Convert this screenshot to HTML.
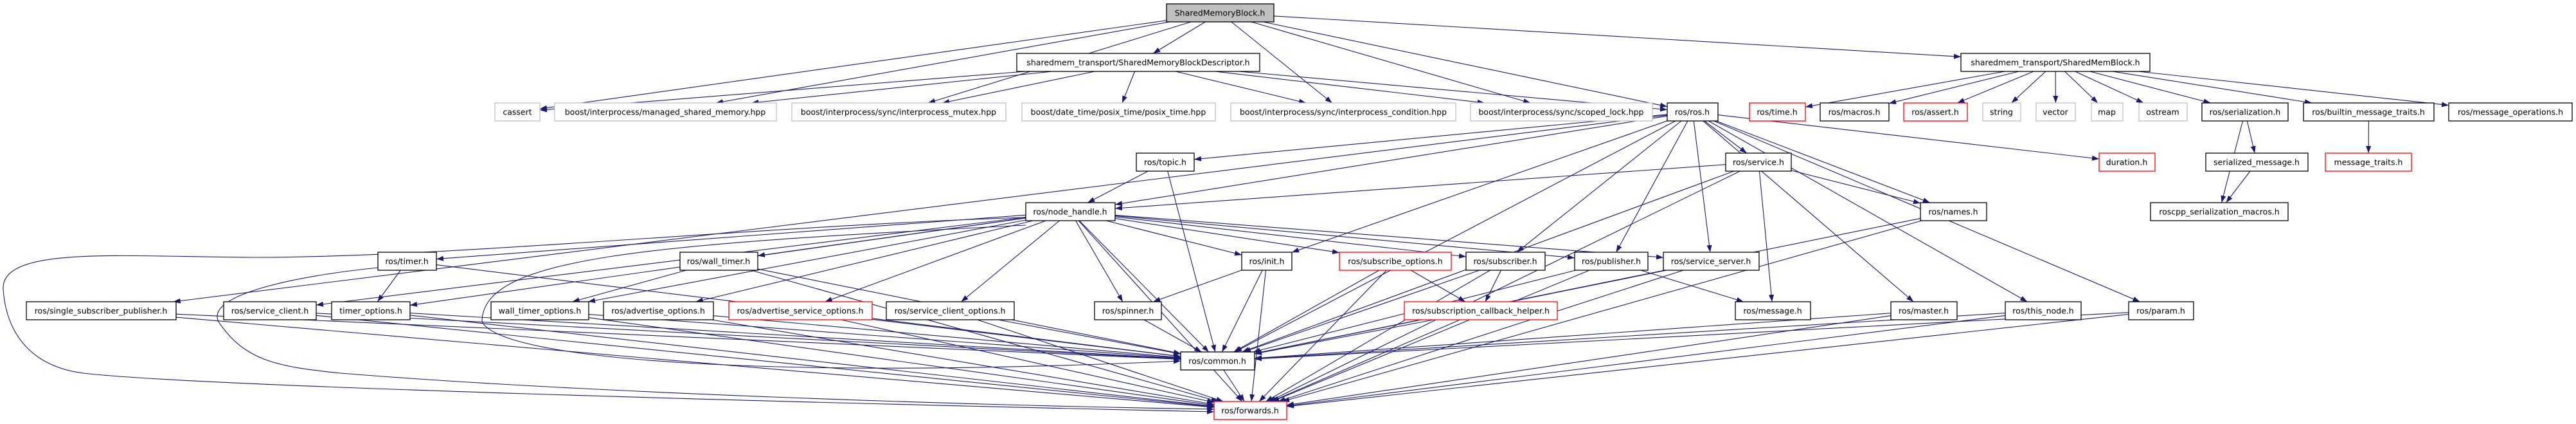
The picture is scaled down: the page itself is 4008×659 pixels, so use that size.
<!DOCTYPE html>
<html><head><meta charset="utf-8"><style>
html,body{margin:0;padding:0;background:#fff;overflow:hidden;}
svg{display:block;}
text{font-family:"DejaVu Sans","Liberation Sans",sans-serif;font-size:12.5px;fill:#000;}
</style></head><body>
<svg id="g" width="4008" height="659" xmlns="http://www.w3.org/2000/svg">
<defs><marker id="ah" markerUnits="userSpaceOnUse" markerWidth="12" markerHeight="9" refX="11" refY="4" orient="auto"><path d="M0,0 L11,4 L0,8 z" fill="#191970"/></marker></defs>
<g id="edges" fill="none" stroke="#191970" stroke-width="1.1">
<path d="M1596,338 C1200,350 700,400 400,400 C200,400 0,380 5,450 C10,520 50,570 130,580 C300,600 1200,625 1889,640" marker-end="url(#ah)"/>
<path d="M588,416 C450,430 320,460 340,500 C380,560 430,570 530,580 C900,610 1500,630 1889,636" marker-end="url(#ah)"/>
<path d="M1596,350 C1000,380 750,400 750,500 C780,560 1200,590 1837,561" marker-end="url(#ah)"/>
</g>
<g id="nodes"></g>
<g font-family="DejaVu Sans, Liberation Sans, sans-serif" font-size="12.5" text-anchor="middle">
<text x="1898" y="24.5">SharedMemoryBlock.h</text>
<text x="1771" y="101.5">sharedmem_transport/SharedMemoryBlockDescriptor.h</text>
<text x="3198" y="101.5">sharedmem_transport/SharedMemBlock.h</text>
<text x="805" y="178.5">cassert</text>
<text x="1035" y="178.5">boost/interprocess/managed_shared_memory.hpp</text>
<text x="1398" y="178.5">boost/interprocess/sync/interprocess_mutex.hpp</text>
<text x="1740" y="178.5">boost/date_time/posix_time/posix_time.hpp</text>
<text x="2090" y="178.5">boost/interprocess/sync/interprocess_condition.hpp</text>
<text x="2429" y="178.5">boost/interprocess/sync/scoped_lock.hpp</text>
<text x="2633" y="178.5">ros/ros.h</text>
<text x="2765" y="178.5">ros/time.h</text>
<text x="2885" y="178.5">ros/macros.h</text>
<text x="3011" y="178.5">ros/assert.h</text>
<text x="3114" y="178.5">string</text>
<text x="3198" y="178.5">vector</text>
<text x="3278" y="178.5">map</text>
<text x="3365" y="178.5">ostream</text>
<text x="3493" y="178.5">ros/serialization.h</text>
<text x="3685" y="178.5">ros/builtin_message_traits.h</text>
<text x="3906" y="178.5">ros/message_operations.h</text>
<text x="1813" y="256.5">ros/topic.h</text>
<text x="2736" y="256.5">ros/service.h</text>
<text x="3309" y="256.5">duration.h</text>
<text x="3511" y="256.5">serialized_message.h</text>
<text x="3685" y="256.5">message_traits.h</text>
<text x="1665" y="333.5">ros/node_handle.h</text>
<text x="3039" y="333.5">ros/names.h</text>
<text x="3453" y="333.5">roscpp_serialization_macros.h</text>
<text x="633" y="410.5">ros/timer.h</text>
<text x="1118" y="410.5">ros/wall_timer.h</text>
<text x="1971" y="410.5">ros/init.h</text>
<text x="2171" y="410.5">ros/subscribe_options.h</text>
<text x="2342" y="410.5">ros/subscriber.h</text>
<text x="2507" y="410.5">ros/publisher.h</text>
<text x="2662" y="410.5">ros/service_server.h</text>
<text x="157" y="487.5">ros/single_subscriber_publisher.h</text>
<text x="420" y="487.5">ros/service_client.h</text>
<text x="577" y="487.5">timer_options.h</text>
<text x="840" y="487.5">wall_timer_options.h</text>
<text x="1024" y="487.5">ros/advertise_options.h</text>
<text x="1245" y="487.5">ros/advertise_service_options.h</text>
<text x="1478" y="487.5">ros/service_client_options.h</text>
<text x="1755" y="487.5">ros/spinner.h</text>
<text x="2304" y="487.5">ros/subscription_callback_helper.h</text>
<text x="2758" y="487.5">ros/message.h</text>
<text x="2993" y="487.5">ros/master.h</text>
<text x="3179" y="487.5">ros/this_node.h</text>
<text x="3362" y="487.5">ros/param.h</text>
<text x="1894" y="565.5">ros/common.h</text>
<text x="1945" y="642.5">ros/forwards.h</text>
</g>
</svg>
<script>
var R=[0,6,83,160,238,315,392,469,547,624];
var N=[
["smb",1815,1982,1,"s"],["desc",1582,1960,2,""],["smblk",3051,3345,2,""],
["cassert",770,840,3,"g"],["msm",863,1208,3,"g"],["mutex",1232,1565,3,"g"],["posix",1590,1891,3,"g"],
["cond",1915,2265,3,"g"],["lock",2288,2571,3,"g"],["ros",2594,2673,3,""],["time",2722,2809,3,"r"],
["macros",2832,2939,3,""],["assert",2962,3061,3,"r"],["string",3085,3144,3,"g"],["vector",3168,3229,3,"g"],
["map",3254,3303,3,"g"],["ostream",3328,3403,3,"g"],["ser",3426,3560,3,""],["bmt",3584,3787,3,""],
["mops",3810,4002,3,""],["topic",1768,1858,4,""],["service",2685,2787,4,""],["duration",3266,3353,4,"r"],
["smsg",3432,3591,4,""],["mtraits",3618,3752,4,"r"],["nh",1596,1735,5,""],["names",2988,3091,5,""],
["macrosc",3346,3560,5,""],["timer",588,679,6,""],["wtimer",1058,1179,6,""],["init",1932,2010,6,""],
["subopt",2084,2258,6,"r"],["sub",2281,2404,6,""],["pub",2450,2564,6,""],["ssrv",2588,2737,6,""],
["ssp",41,274,7,""],["sclient",348,492,7,""],["topt",516,638,7,""],["wtopt",764,916,7,""],
["aopt",939,1110,7,""],["asopt",1134,1357,7,"r"],["scopt",1379,1578,7,""],["spinner",1703,1807,7,""],
["sch",2185,2423,7,"r"],["msg",2700,2817,7,""],["master",2942,3045,7,""],["thisnode",3120,3238,7,""],
["param",3312,3413,7,""],["common",1837,1952,8,""],["fwd",1889,2002,9,"r"]
];
var B={};
N.forEach(function(n){B[n[0]]={x:n[1],y:R[n[3]],w:n[2]-n[1],h:28,s:n[4]};});
var E="smb>cassert,msm,mutex,desc,cond,lock,ros,smblk;desc>cassert,msm,mutex,posix,cond,lock,ros;smblk>time,macros,assert,string,vector,map,ostream,ser,bmt,mops;ser>smsg,macrosc;smsg>macrosc;bmt>mtraits;ros>nh,topic,ssp,common,init,sub,pub,ssrv,service,names,master,thisnode,param,duration;topic>nh,common;service>nh,names,msg,common,fwd;nh>timer,wtimer,sclient,topt,wtopt,aopt,asopt,scopt,spinner,init,subopt,sub,pub,ssrv,common,fwd;timer>topt,common;wtimer>wtopt,common,fwd;init>spinner,common,fwd;spinner>common;common>fwd;ssp>common,fwd;sclient>common,fwd;topt>common,fwd;wtopt>common,fwd;aopt>common,fwd;asopt>common,fwd;scopt>common,fwd;subopt>sch,common,fwd;sub>sch,common,fwd;sch>common,fwd;pub>msg,common,fwd;ssrv>common,fwd;names>common,fwd;master>common,fwd;thisnode>common,fwd;param>common,fwd";
function clip(b,dx,dy){var cx=b.x+b.w/2,cy=b.y+b.h/2;var t=Math.min(dx?(b.w/2)/Math.abs(dx):1e9,dy?(b.h/2)/Math.abs(dy):1e9);return [cx+dx*t,cy+dy*t];}
var NS="http://www.w3.org/2000/svg";
var eg=document.getElementById("edges");
E.split(";").forEach(function(p){var a=p.split(">"),src=B[a[0]];a[1].split(",").forEach(function(t){var d=B[t];var sx=src.x+src.w/2,sy=src.y+src.h/2,tx=d.x+d.w/2,ty=d.y+d.h/2;var p1=clip(src,tx-sx,ty-sy),p2=clip(d,sx-tx,sy-ty);var e=document.createElementNS(NS,"path");e.setAttribute("d","M"+p1[0].toFixed(1)+","+p1[1].toFixed(1)+" L"+p2[0].toFixed(1)+","+p2[1].toFixed(1));e.setAttribute("marker-end","url(#ah)");eg.appendChild(e);});});
var ng=document.getElementById("nodes");
Object.keys(B).forEach(function(k){var b=B[k];var st=b.s=="g"?"#bfbfbf":(b.s=="r"?"#ff0000":"#000");var r=document.createElementNS(NS,"rect");r.setAttribute("x",b.x);r.setAttribute("y",b.y);r.setAttribute("width",b.w);r.setAttribute("height",28);r.setAttribute("fill",b.s=="s"?"#bfbfbf":"#fff");r.setAttribute("stroke",st);r.setAttribute("stroke-width","1.3");ng.appendChild(r);});
</script>
</body></html>
